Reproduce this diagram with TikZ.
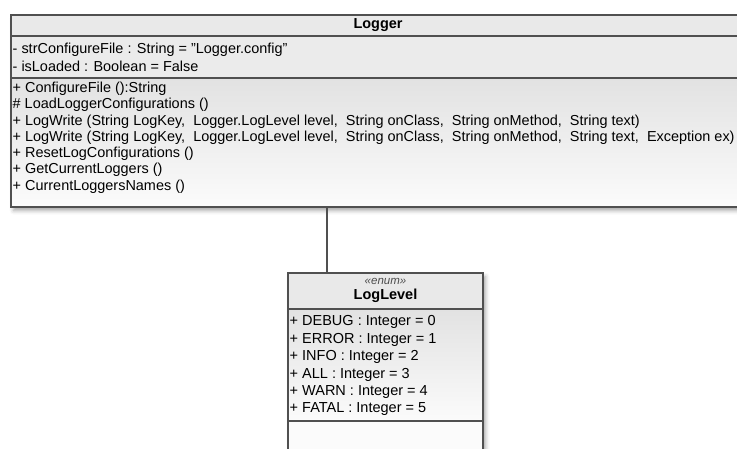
\documentclass[tikz,border=0pt]{standalone}
\usepackage{fontspec}
\setmainfont{Liberation Sans}
\usetikzlibrary{shadows.blur}
\definecolor{bordc}{HTML}{505050}
\definecolor{headc}{HTML}{E9E9E9}
\definecolor{attrc}{HTML}{EBEBEB}
\definecolor{mtop}{HTML}{E2E2E2}
\definecolor{mbot}{HTML}{FBFBFB}
\tikzset{
  classbox/.style={draw=bordc, line width=1.2pt, inner sep=0pt, anchor=north west, fill=white,
    blur shadow={shadow xshift=2pt, shadow yshift=-3pt, shadow blur radius=4pt, shadow opacity=35}},
  member/.style={anchor=west, inner sep=0pt, font=\fontsize{14.45}{16}\selectfont, text=black},
  lmember/.style={anchor=west, inner sep=0pt, font=\fontsize{14.5}{16}\selectfont, text=black},
  sepline/.style={draw=bordc, line width=1.2pt},
  link/.style={draw=bordc, line width=1.2pt}
}
\begin{document}
\begin{tikzpicture}[x=1pt,y=-1pt]
\useasboundingbox (0,0) rectangle (737,448);
% Logger class
\node[classbox, minimum width=734pt, minimum height=192pt] (logger) at (11,15) {};
\fill[headc] (11.6,15.6) rectangle (745,36);
\fill[attrc] (11.6,36) rectangle (745,78);
\shade[top color=mtop, bottom color=mbot] (11.6,78) rectangle (745,206.4);
\draw[draw=bordc, line width=1.2pt] (11,15) rectangle (745,207);
\draw[sepline] (11,36) -- (745,36);
\draw[sepline] (11,78) -- (745,78);
\node[anchor=center, inner sep=0pt, font=\fontsize{14.45}{16}\selectfont\bfseries] (lgname) at (378,25.5) {Logger};
\node[member] (a1) at (12.5,50) {- strConfigureFile : String = "Logger.config"};
\node[member] (a2) at (12.5,66) {- isLoaded : Boolean = False};
\node[member] (m1) at (12.5,88.5) {+ ConfigureFile ():String};
\node[member] (m2) at (12.5,105) {\# LoadLoggerConfigurations ()};
\node[member] (m3) at (12.5,121.5) {+ LogWrite (String LogKey,~ Logger.LogLevel level,~ String onClass,~ String onMethod,~ String text)};
\node[member] (m4) at (12.5,138) {+ LogWrite (String LogKey,~ Logger.LogLevel level,~ String onClass,~ String onMethod,~ String text,~ Exception ex)};
\node[member] (m5) at (12.5,154) {+ ResetLogConfigurations ()};
\node[member] (m6) at (12.5,170) {+ GetCurrentLoggers ()};
\node[member] (m7) at (12.5,186.5) {+ CurrentLoggersNames ()};
% LogLevel enum
\node[classbox, minimum width=195pt, minimum height=190pt] (loglevel) at (288,273) {};
\fill[headc] (288.6,273.6) rectangle (482.4,309);
\shade[top color=mtop, bottom color=mbot] (288.6,309) rectangle (482.4,421);
\fill[mbot] (288.6,421) rectangle (482.4,462);
\draw[draw=bordc, line width=1.2pt] (288,273) rectangle (483,463);
\draw[sepline] (288,309) -- (483,309);
\draw[sepline] (288,421) -- (483,421);
\node[anchor=center, inner sep=0pt, font=\fontsize{11.5}{12}\selectfont\itshape, text=black!70] (stereo) at (385.5,281) {«enum»};
\node[anchor=center, inner sep=0pt, font=\fontsize{14.5}{16}\selectfont\bfseries] (llname) at (385.5,296) {LogLevel};
\node[lmember] (e0) at (289.5,322) {+ DEBUG : Integer = 0};
\node[lmember] (e1) at (289.5,339.5) {+ ERROR : Integer = 1};
\node[lmember] (e2) at (289.5,357) {+ INFO : Integer = 2};
\node[lmember] (e3) at (289.5,374.5) {+ ALL : Integer = 3};
\node[lmember] (e4) at (289.5,392) {+ WARN : Integer = 4};
\node[lmember] (e5) at (289.5,409.5) {+ FATAL : Integer = 5};
% connector
\coordinate (lk) at (327,273);
\draw[link] (lk |- logger.south) -- (lk);
\end{tikzpicture}
\end{document}
